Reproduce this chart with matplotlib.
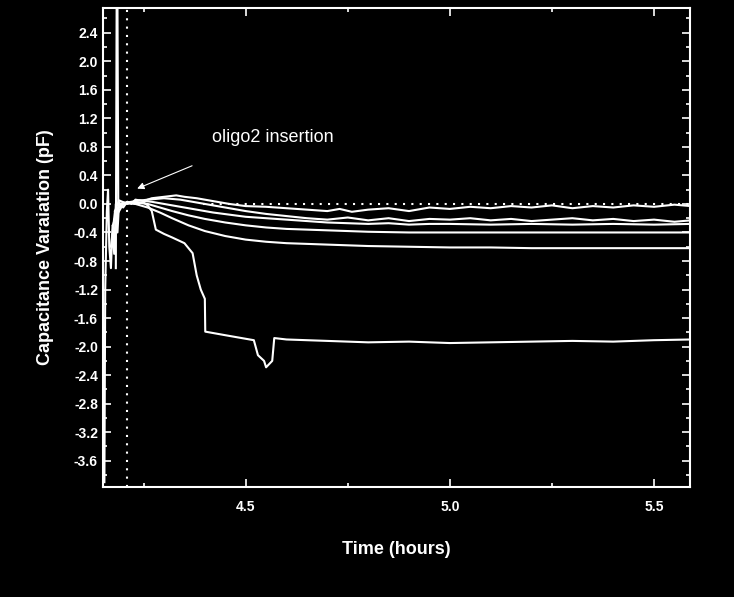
import matplotlib
matplotlib.use("Agg")
import matplotlib.pyplot as plt
from matplotlib.ticker import MultipleLocator

plt.rcParams["font.family"] = "Liberation Sans"

# ---- data (hours, pF) ----
c1_t = [4.154, 4.156, 4.160, 4.163, 4.166, 4.170, 4.174, 4.178, 4.182, 4.186, 4.19, 4.20, 4.21, 4.22, 4.23, 4.25, 4.27, 4.30, 4.33, 4.35, 4.38, 4.42, 4.46, 4.50, 4.55, 4.60, 4.65, 4.70, 4.73, 4.76, 4.80, 4.85, 4.90, 4.95, 5.00, 5.05, 5.10, 5.15, 5.20, 5.25, 5.30, 5.35, 5.40, 5.45, 5.50, 5.55, 5.59]
c1_v = [-3.9, -1.2, -0.1, 0.2, -0.6, -0.9, -0.3, -0.7, 0.0, -0.4, 0.02, -0.05, 0.03, 0.0, 0.06, 0.04, 0.08, 0.1, 0.12, 0.1, 0.08, 0.04, 0.0, -0.03, -0.04, -0.06, -0.08, -0.1, -0.07, -0.11, -0.08, -0.06, -0.1, -0.05, -0.07, -0.04, -0.06, -0.03, -0.05, -0.02, -0.06, -0.03, -0.05, -0.02, -0.04, -0.01, -0.03]

c2_t = [4.17, 4.18, 4.19, 4.21, 4.23, 4.26, 4.30, 4.34, 4.38, 4.42, 4.46, 4.50, 4.55, 4.60, 4.65, 4.70, 4.75, 4.80, 4.85, 4.90, 4.95, 5.00, 5.05, 5.10, 5.15, 5.20, 5.25, 5.30, 5.35, 5.40, 5.45, 5.50, 5.55, 5.59]
c2_v = [-0.6, -0.1, 0.05, 0.0, 0.04, 0.06, 0.08, 0.06, 0.02, -0.02, -0.06, -0.1, -0.14, -0.17, -0.2, -0.22, -0.19, -0.23, -0.2, -0.24, -0.21, -0.22, -0.2, -0.23, -0.21, -0.24, -0.22, -0.2, -0.23, -0.21, -0.24, -0.22, -0.25, -0.23]

c3_t = [4.175, 4.19, 4.21, 4.24, 4.27, 4.30, 4.34, 4.38, 4.42, 4.46, 4.50, 4.55, 4.60, 4.65, 4.70, 4.75, 4.80, 4.85, 4.90, 4.95, 5.00, 5.10, 5.20, 5.30, 5.40, 5.50, 5.59]
c3_v = [-0.3, 0.0, 0.02, 0.05, 0.03, 0.0, -0.04, -0.08, -0.12, -0.15, -0.18, -0.2, -0.22, -0.24, -0.26, -0.27, -0.28, -0.27, -0.29, -0.28, -0.28, -0.29, -0.28, -0.29, -0.28, -0.29, -0.28]

c4_t = [4.18, 4.20, 4.23, 4.26, 4.29, 4.32, 4.36, 4.40, 4.45, 4.50, 4.55, 4.60, 4.70, 4.80, 4.90, 5.00, 5.10, 5.20, 5.30, 5.40, 5.50, 5.59]
c4_v = [-0.2, 0.0, 0.02, 0.0, -0.05, -0.1, -0.16, -0.21, -0.26, -0.3, -0.33, -0.35, -0.37, -0.39, -0.4, -0.4, -0.4, -0.4, -0.4, -0.4, -0.4, -0.4]

c5_t = [4.18, 4.20, 4.23, 4.26, 4.29, 4.32, 4.36, 4.40, 4.45, 4.50, 4.55, 4.60, 4.70, 4.80, 4.90, 5.00, 5.10, 5.20, 5.30, 5.40, 5.50, 5.59]
c5_v = [-0.1, 0.02, 0.0, -0.05, -0.12, -0.2, -0.3, -0.38, -0.45, -0.5, -0.53, -0.55, -0.57, -0.59, -0.6, -0.61, -0.61, -0.62, -0.62, -0.62, -0.62, -0.62]

c6_t = [4.19, 4.21, 4.23, 4.25, 4.26, 4.27, 4.28, 4.30, 4.32, 4.35, 4.37, 4.38, 4.39, 4.40, 4.401, 4.45, 4.50, 4.52, 4.53, 4.545, 4.55, 4.565, 4.57, 4.60, 4.70, 4.80, 4.90, 5.00, 5.10, 5.20, 5.30, 5.40, 5.50, 5.59]
c6_v = [-0.05, 0.03, 0.0, 0.02, -0.02, -0.1, -0.36, -0.42, -0.47, -0.55, -0.69, -1.0, -1.2, -1.33, -1.79, -1.84, -1.89, -1.91, -2.12, -2.2, -2.29, -2.2, -1.88, -1.9, -1.92, -1.94, -1.93, -1.95, -1.94, -1.93, -1.92, -1.93, -1.91, -1.9]

spike_t = [4.182, 4.184, 4.186, 4.188]
spike_v = [-0.9, 2.8, 2.8, 0.0]

insert_t = 4.21

fig = plt.figure(figsize=(7.34, 5.97), dpi=100, facecolor="black")
ax = fig.add_axes([0.140, 0.184, 0.800, 0.803], facecolor="black")

for t, v in [(c1_t, c1_v), (c2_t, c2_v), (c3_t, c3_v), (c4_t, c4_v), (c5_t, c5_v), (c6_t, c6_v), (spike_t, spike_v)]:
    ax.plot(t, v, color="white", lw=1.5)

ax.axvline(insert_t, color="white", ls=(0, (1, 3)), lw=1.5)
ax.axhline(0, xmin=0.17, color="white", ls=(0, (1, 3)), lw=1.5)

ax.text(4.417, 0.87, "oligo2 insertion", color="white", fontsize=13)
ax.annotate("", xy=(4.228, 0.2), xytext=(4.375, 0.55),
            arrowprops=dict(arrowstyle="-|>", color="white", lw=0.8))

ax.set_xlim(4.15, 5.588)
ax.set_ylim(-3.97, 2.75)
ax.xaxis.set_major_locator(MultipleLocator(0.5))
ax.xaxis.set_minor_locator(MultipleLocator(0.25))
ax.yaxis.set_minor_locator(MultipleLocator(0.2))
ax.set_yticks([v / 10 for v in range(-36, 25, 4)])
ax.set_yticklabels([f"{v/10:.1f}" for v in range(-36, 25, 4)])

ax.tick_params(which="both", direction="in", colors="white", top=True, right=True, width=1.2)
ax.tick_params(which="major", length=6, labelsize=10)
ax.tick_params(which="minor", length=3)
ax.tick_params(axis="x", pad=9)
for lab in ax.get_xticklabels() + ax.get_yticklabels():
    lab.set_fontweight("bold")
for s in ax.spines.values():
    s.set_color("white")
    s.set_linewidth(1.5)

ax.set_xlabel("Time (hours)", color="white", fontsize=13, fontweight="bold", labelpad=20)
ax.set_ylabel("Capacitance Varaiation (pF)", color="white", fontsize=13, fontweight="bold", labelpad=14)

fig.savefig("out.png", dpi=100, facecolor="black")
